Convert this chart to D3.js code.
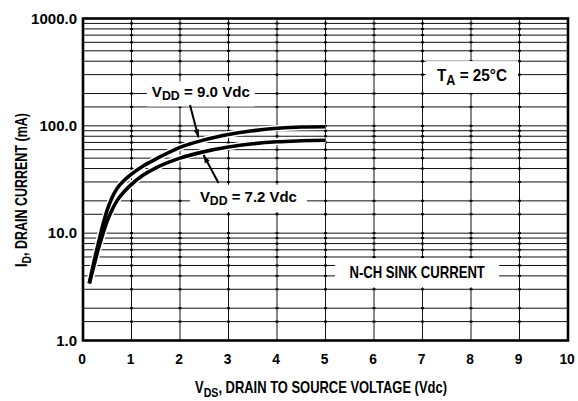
<!DOCTYPE html>
<html><head><meta charset="utf-8">
<script src="https://cdn.jsdelivr.net/npm/d3@7"></script>
<style>
body{margin:0;background:#fff}
text{font-family:"Liberation Sans",Arial,sans-serif;font-weight:bold;fill:#000}
</style></head><body><svg id="c" width="578" height="401"></svg>
<script>
// ---- data ----
const xTicks = [0,1,2,3,4,5,6,7,8,9,10];
const yTicks = [1,10,100,1000];
const yTickLabels = ["1.0","10.0","100.0","1000.0"];
const gridMultipliers = [1,1.5,2,3,4,5,6,7,8,9];
const decades = [1,10,100];
// V_DD = 9.0 Vdc curve
const vds90 = [0.13,0.2,0.3,0.4,0.5,0.6,0.7,0.8,1.0,1.25,1.5,2.0,2.5,3.0,3.5,4.0,4.5,5.0];
const id90  = [3.4, 4.8,7.5,11.5,16.5,21.5,26,29.5,35.5,42.5,49,63,74,83,90,95,97.5,98];
// V_DD = 7.2 Vdc curve
const vds72 = [0.13,0.2,0.3,0.4,0.5,0.6,0.7,0.8,1.0,1.25,1.5,2.0,2.5,3.0,3.5,4.0,4.5,5.0];
const id72  = [3.4, 4.5,6.7,9.5,13,16.5,20,23,28.5,35,40.5,50,57.5,63.5,68,71,72.5,73.5];
// annotations (data coordinates: V, mA at baseline centre)
const annTexts = [["V","DD"," = 9.0 Vdc"],["V","DD"," = 7.2 Vdc"],["T","A"," = 25°C"],["N-CH SINK CURRENT","",""]];
const annX = [2.43, 3.41, 8.02, 6.89];
const annY = [184.5, 19.6, 261, 3.8];
const arrowFrom = [[2.206,156],[2.794,29.3]];
const arrowTo   = [[2.381,78],[2.485,53.5]];
const xTitle = ["V","DS",", DRAIN TO SOURCE VOLTAGE (Vdc)"];
const yTitle = ["I","D",", DRAIN CURRENT (mA)"];

// ---- drawing ----
const L=83,R=568,T=18.5,B=340.5;
const svg=d3.select("#c");
const x=d3.scaleLinear().domain([0,10]).range([L,R]);
const y=d3.scaleLog().domain([1,1000]).range([B,T]);

// text helper: centred, horizontally compressed to a target width
function label(parent, parts, cx, cy, size, target, rot, pad){
  const outer=parent.append("g").attr("transform",`translate(${cx},${cy})${rot?" rotate(-90)":""}`);
  const bg=outer.append("rect").attr("fill","#fff");
  const inner=outer.append("g");
  const tx=inner.append("text").attr("x",0).attr("y",0).attr("text-anchor","middle").style("font-size",size+"px");
  tx.append("tspan").text(parts[0]);
  if(parts[1]){
    tx.append("tspan").attr("dy",size*0.22).style("font-size",(size*0.82)+"px").text(parts[1]);
    tx.append("tspan").attr("dy",-size*0.22).text(parts[2]);
  }
  const bb=tx.node().getBBox();
  const s=target/bb.width;
  inner.attr("transform",`scale(${s},1)`);
  if(pad){
    bg.attr("x",-target/2-pad[0]).attr("y",bb.y-pad[1]).attr("width",target+2*pad[0]).attr("height",bb.height+2*pad[1]);
  } else bg.remove();
  return outer;
}

// grid values
const gridVals=[];
decades.forEach(d=>gridMultipliers.forEach(m=>{const v=d*m; if(v>1&&v<1000) gridVals.push(v);}));
const g=svg.append("g");
g.selectAll("line.h").data(gridVals).join("line")
 .attr("x1",L).attr("x2",R).attr("y1",d=>y(d)).attr("y2",d=>y(d))
 .attr("stroke","#111").attr("stroke-width",1);
g.selectAll("line.v").data(xTicks.filter(v=>v>0&&v<10)).join("line")
 .attr("x1",d=>x(d)).attr("x2",d=>x(d)).attr("y1",T).attr("y2",B)
 .attr("stroke","#111").attr("stroke-width",1);
// intersection marks
const marks=[];
xTicks.filter(v=>v>0&&v<10).forEach(v=>gridVals.forEach(u=>marks.push([v,u])));
g.selectAll("rect.m").data(marks).join("rect")
 .attr("x",d=>x(d[0])-1.5).attr("y",d=>y(d[1])-1).attr("width",3).attr("height",2).attr("fill","#000");

// curves
const line=d3.line().x(d=>x(d[0])).y(d=>y(d[1])).curve(d3.curveMonotoneX);
const c90=vds90.map((v,i)=>[v,id90[i]]);
const c72=vds72.map((v,i)=>[v,id72[i]]);
[c90,c72].forEach(c=>{
  svg.append("path").datum(c).attr("d",line).attr("fill","none").attr("stroke","#fff").attr("stroke-width",6.5);
});
[c90,c72].forEach(c=>{
  svg.append("path").datum(c).attr("d",line).attr("fill","none").attr("stroke","#000").attr("stroke-width",3.6);
});

// annotation labels with white background
const annSize=[14.5,14.5,17,17];
const annWidth=[98,97,70,136];
const annPad=[[5,3],[10,4],[11,5],[14,5]];
annTexts.forEach((t,i)=>label(svg,t,x(annX[i]),y(annY[i]),annSize[i],annWidth[i],false,annPad[i]));

// arrows
const defs=svg.append("defs");
defs.append("marker").attr("id","ah").attr("viewBox","0 0 10 10").attr("refX",10).attr("refY",5)
 .attr("markerWidth",5).attr("markerHeight",4).attr("markerUnits","strokeWidth").attr("orient","auto")
 .append("path").attr("d","M0,1.5 L10,5 L0,8.5 Z").attr("fill","#000");
arrowFrom.forEach((f,i)=>{
  svg.append("line").attr("x1",x(f[0])).attr("y1",y(f[1])).attr("x2",x(arrowTo[i][0])).attr("y2",y(arrowTo[i][1]))
   .attr("stroke","#000").attr("stroke-width",2).attr("marker-end","url(#ah)");
});

// frame
svg.append("rect").attr("x",L).attr("y",T).attr("width",R-L).attr("height",B-T)
 .attr("fill","none").attr("stroke","#000").attr("stroke-width",2.6);

// axes
const ax=svg.append("g").attr("transform",`translate(0,${B})`)
 .call(d3.axisBottom(x).tickValues(xTicks).tickSize(0).tickPadding(13).tickFormat(d3.format("d")));
ax.select(".domain").remove();
ax.selectAll("text").style("font-size","15px").attr("dx",-1.5).attr("transform","scale(0.92,1)");
const ay=svg.append("g").attr("transform",`translate(${L},0)`)
 .call(d3.axisLeft(y).tickValues(yTicks).tickSize(0).tickPadding(6).tickFormat((d,i)=>yTickLabels[i]));
ay.select(".domain").remove();
ay.selectAll("text").style("font-size","15px");

// axis titles
label(svg,xTitle,321,393,16,252,false,null);
label(svg,yTitle,27,190,16,154,true,null);
</script></body></html>
